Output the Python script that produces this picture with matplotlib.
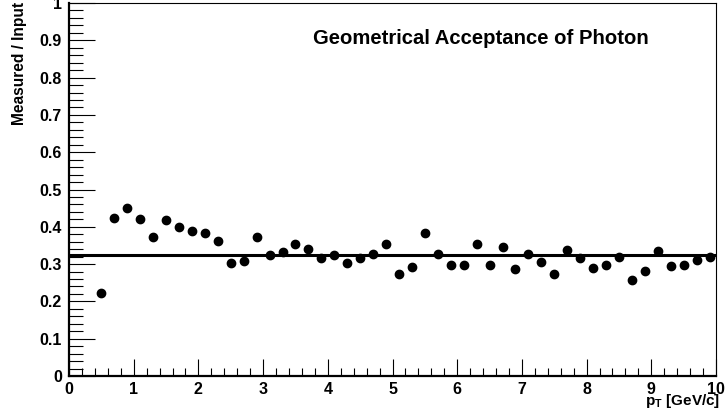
import numpy as np
import matplotlib.pyplot as plt
from matplotlib.ticker import MultipleLocator

plt.rcParams['font.family'] = ['Liberation Sans', 'DejaVu Sans']
plt.rcParams['font.weight'] = 'bold'
plt.rcParams['mathtext.fontset'] = 'custom'
plt.rcParams['mathtext.bf'] = 'Liberation Sans:bold'
plt.rcParams['mathtext.rm'] = 'Liberation Sans:bold'

# photon pT bin centres and measured/input ratio
pt = [0.5, 0.7, 0.9, 1.1, 1.3, 1.5, 1.7, 1.9, 2.1, 2.3,
      2.5, 2.7, 2.9, 3.1, 3.3, 3.5, 3.7, 3.9, 4.1, 4.3,
      4.5, 4.7, 4.9, 5.1, 5.3, 5.5, 5.7, 5.9, 6.1, 6.3,
      6.5, 6.7, 6.9, 7.1, 7.3, 7.5, 7.7, 7.9, 8.1, 8.3,
      8.5, 8.7, 8.9, 9.1, 9.3, 9.5, 9.7, 9.9]
ratio = [0.223, 0.424, 0.450, 0.421, 0.373, 0.418, 0.400, 0.389, 0.383, 0.362,
         0.303, 0.308, 0.373, 0.324, 0.332, 0.354, 0.340, 0.316, 0.324, 0.303,
         0.316, 0.327, 0.354, 0.273, 0.292, 0.383, 0.327, 0.298, 0.298, 0.354,
         0.298, 0.346, 0.287, 0.327, 0.306, 0.273, 0.338, 0.316, 0.290, 0.298,
         0.319, 0.257, 0.281, 0.335, 0.295, 0.298, 0.311, 0.319]
fit_level = 0.3236
fit_range = [0.0, 10.0]

fig = plt.figure(figsize=(7.25, 4.18), dpi=100)
ax = fig.add_axes([0.0952, 0.1005, 0.8924, 0.8923])

ax.plot(pt, ratio, 'o', color='black', ms=6, zorder=3)
ax.plot(fit_range, [fit_level, fit_level], color='black', lw=2.2, zorder=2)

ax.set_xlim(0, 10)
ax.set_ylim(0, 1)
ax.xaxis.set_major_locator(MultipleLocator(1))
ax.xaxis.set_minor_locator(MultipleLocator(0.2))
ax.yaxis.set_major_locator(MultipleLocator(0.1))
ax.yaxis.set_minor_locator(MultipleLocator(0.02))
ax.tick_params(which='both', direction='in', top=False, right=False, labelsize=11.5)
ax.tick_params(axis='y', which='major', length=19, width=0.8, pad=5)
ax.tick_params(axis='y', which='minor', length=10, width=0.8)
ax.tick_params(axis='x', which='major', length=12, width=0.8, pad=4)
ax.tick_params(axis='x', which='minor', length=6, width=0.8)

ax.xaxis.set_major_formatter(lambda v, p: '%g' % v)
ax.yaxis.set_major_formatter(lambda v, p: '%g' % v)

ax.spines['left'].set_linewidth(1.6)
ax.spines['bottom'].set_linewidth(1.6)
ax.spines['top'].set_linewidth(0.8)
ax.spines['right'].set_linewidth(0.8)

ax.text(6.37, 0.906, 'Geometrical Acceptance of Photon', ha='center', va='center',
        fontsize=14.6, fontweight='bold')

fig.text(0.993, 0.02, r'$\mathbf{p_T}$ [GeV/c]', ha='right', va='bottom',
         fontsize=11, fontweight='bold')
fig.text(0.027, 0.995, 'Measured / Input', rotation=90, ha='center', va='top',
         fontsize=11.2, fontweight='bold')

fig.savefig('out.png', dpi=100)
